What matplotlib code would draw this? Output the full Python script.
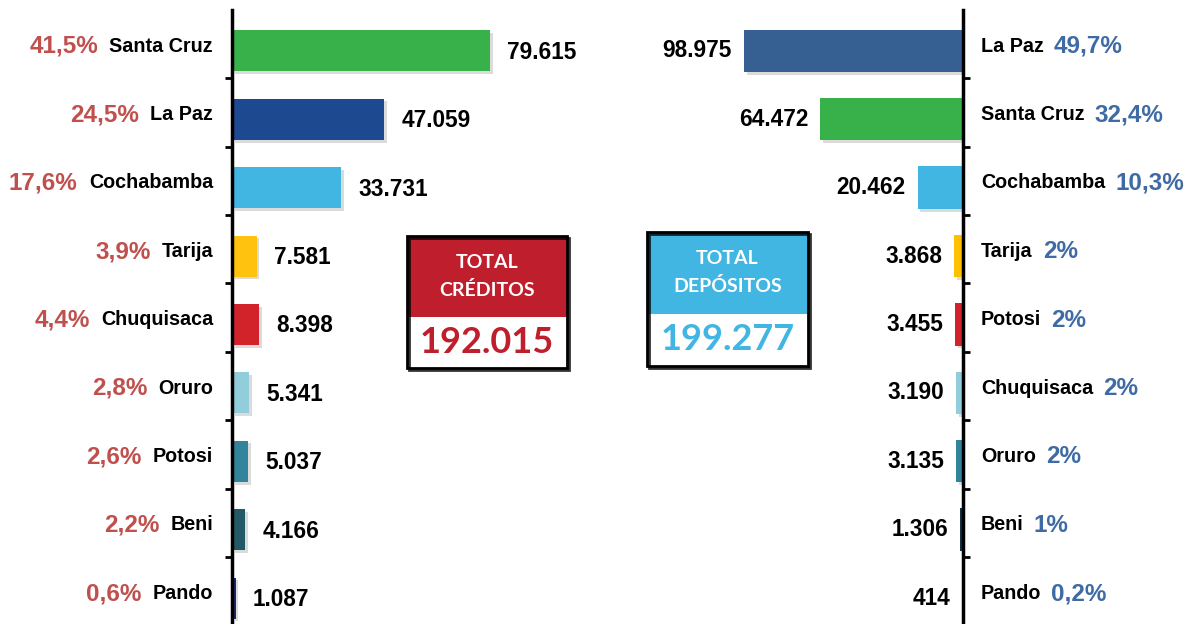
import matplotlib
matplotlib.use("Agg")
import numpy as np
import matplotlib.pyplot as plt
import matplotlib.patheffects as pe
from matplotlib.patches import Rectangle

# Creditos por departamento
cred_names = ["Santa Cruz", "La Paz", "Cochabamba", "Tarija", "Chuquisaca", "Oruro", "Potosi", "Beni", "Pando"]
cred_vals = [79615, 47059, 33731, 7581, 8398, 5341, 5037, 4166, 1087]
cred_pct = ["41,5%", "24,5%", "17,6%", "3,9%", "4,4%", "2,8%", "2,6%", "2,2%", "0,6%"]
cred_colors = ["#39B14A", "#1C4990", "#42B6E2", "#FFC20E", "#D2232A", "#92CDDC", "#31849B", "#215967", "#1F2A6E"]
cred_total = "192.015"

# Depositos por departamento
dep_names = ["La Paz", "Santa Cruz", "Cochabamba", "Tarija", "Potosi", "Chuquisaca", "Oruro", "Beni", "Pando"]
dep_vals = [98975, 64472, 20462, 3868, 3455, 3190, 3135, 1306, 414]
dep_pct = ["49,7%", "32,4%", "10,3%", "2%", "2%", "2%", "2%", "1%", "0,2%"]
dep_colors = ["#376092", "#39B14A", "#42B6E2", "#FFC000", "#D2232A", "#92CDDC", "#31849B", "#0F3340", "#1F2A6E"]
dep_total = "199.277"

RED_PCT = "#C0504D"
BLUE_PCT = "#3F6BA5"
FONT = "Liberation Sans"
PX = 0.72  # pixel -> points (dpi 100)

def fmt(v):
    return f"{v:,}".replace(",", ".")

W, H = 1198, 624
fig = plt.figure(figsize=(W / 100, H / 100), dpi=100)

top_px, bot_px = 9.8, 625.4
ay = (H - bot_px) / H
ah = (bot_px - top_px) / H

ax1 = fig.add_axes([232 / W, ay, 400 / W, ah])
ax2 = fig.add_axes([(963 - 400) / W, ay, 400 / W, ah])

shadow = [pe.SimplePatchShadow(offset=(2, -2), shadow_rgbFace="#888888", alpha=0.3), pe.Normal()]
ypos = np.arange(len(cred_names))
off = 0.1

# --- panel izquierdo: creditos ---
ax1.barh(ypos + off, cred_vals, height=0.6, color=cred_colors, path_effects=shadow)
ax1.set_xlim(0, 400 / 3.24 * 1000)
ax1.set_ylim(8.5, -0.5)

# --- panel derecho: depositos ---
ax2.barh(ypos + off, dep_vals, height=0.62, color=dep_colors, path_effects=shadow)
ax2.set_xlim(400 / 2.213 * 1000, 0)
ax2.set_ylim(8.5, -0.5)

for ax, side in [(ax1, "left"), (ax2, "right")]:
    ax.patch.set_visible(False)
    for s in ["top", "bottom", "left", "right"]:
        ax.spines[s].set_visible(s == side)
    ax.spines[side].set_linewidth(2.5)
    ax.set_xticks([])
    ax.tick_params(axis="y", length=5, width=2, labelleft=False, labelright=False,
                   left=(side == "left"), right=(side == "right"))
ax1.set_yticks(np.arange(0.5, 8, 1))
ax2.set_yticks(np.arange(0.5, 9, 1))

name_kw = dict(textcoords="offset points", fontsize=14.2, fontweight="bold", family=FONT, va="center_baseline")
val_kw = dict(textcoords="offset points", fontsize=16.3, fontweight="bold", family=FONT, va="center")
pct_kw = dict(textcoords="offset points", fontsize=17.5, fontweight="bold", family=FONT, va="center_baseline")

left_names = []
for i, (n, v) in enumerate(zip(cred_names, cred_vals)):
    t = ax1.annotate(n, xy=(0, i), xytext=(-19 * PX, 0), ha="right", **name_kw)
    left_names.append(t)
    ax1.annotate(fmt(v), xy=(v, i + off), xytext=(17 * PX, -1), ha="left", **val_kw)

right_names = []
for i, (n, v) in enumerate(zip(dep_names, dep_vals)):
    t = ax2.annotate(n, xy=(0, i), xytext=(18 * PX, 0), ha="left", **name_kw)
    right_names.append(t)
    ax2.annotate(fmt(v), xy=(v, i + off), xytext=(-12 * PX, 0), ha="right", **val_kw)

fig.canvas.draw()
r = fig.canvas.get_renderer()
for i, (t, p) in enumerate(zip(left_names, cred_pct)):
    w = t.get_window_extent(r).width
    ax1.annotate(p, xy=(0, i), xytext=(-(19 + w + 11) * PX, 0), ha="right", color=RED_PCT, **pct_kw)
for i, (t, p) in enumerate(zip(right_names, dep_pct)):
    w = t.get_window_extent(r).width
    ax2.annotate(p, xy=(0, i), xytext=((18 + w + 10) * PX, 0), ha="left", color=BLUE_PCT, **pct_kw)

# --- cuadros de totales ---
def total_box(x0, x1, ytop, ymid, ybot, color, title, total):
    fig.add_artist(Rectangle((x0 / W, 1 - ybot / H), (x1 - x0) / W, (ybot - ytop) / H,
                             transform=fig.transFigure, facecolor="white", edgecolor="none"))
    fig.add_artist(Rectangle((x0 / W, 1 - ymid / H), (x1 - x0) / W, (ymid - ytop) / H,
                             transform=fig.transFigure, facecolor=color, edgecolor="none"))
    fig.add_artist(Rectangle((x0 / W, 1 - ybot / H), (x1 - x0) / W, (ybot - ytop) / H,
                             transform=fig.transFigure, facecolor="none", edgecolor="black", linewidth=2,
                             path_effects=[pe.SimpleLineShadow(offset=(1.5, -1.5), shadow_color="black", alpha=0.8),
                                           pe.Normal()]))
    cx = (x0 + x1) / 2 / W
    fig.text(cx, 1 - (ytop + 26) / H, title[0], color="white", ha="center", va="center",
             fontsize=14, fontweight="bold", family="Lato")
    fig.text(cx, 1 - (ytop + 54) / H, title[1], color="white", ha="center", va="center",
             fontsize=14, fontweight="bold", family="Lato")
    fig.text(cx, 1 - (ymid + ybot) / 2 / H, total, color=color, ha="center", va="center",
             fontsize=26, fontweight="bold", family="Lato")

total_box(407, 567, 236, 317, 368, "#BF1E2D", ["TOTAL", "CRÉDITOS"], cred_total)
total_box(647, 808, 232, 314, 366, "#42B6E2", ["TOTAL", "DEPÓSITOS"], dep_total)

fig.savefig("out.png", dpi=100)
